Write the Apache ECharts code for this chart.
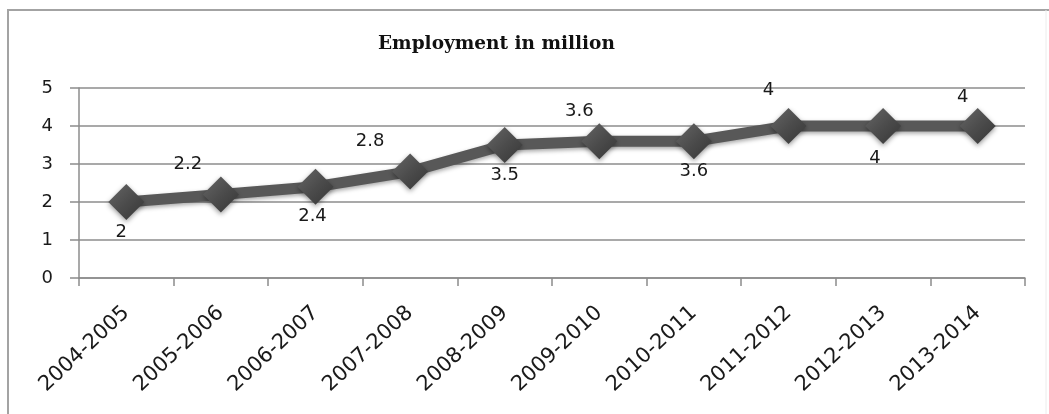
<!DOCTYPE html>
<html>
<head>
<meta charset="utf-8">
<script src="https://cdn.jsdelivr.net/npm/echarts@6/dist/echarts.min.js"></script>
<style>
html,body{margin:0;padding:0;background:#fff;}
#c{width:1049px;height:414px;}
</style>
</head>
<body>
<div id="c"></div>
<script>
var categories = ['2004-2005','2005-2006','2006-2007','2007-2008','2008-2009','2009-2010','2010-2011','2011-2012','2012-2013','2013-2014'];
var employment = [2, 2.2, 2.4, 2.8, 3.5, 3.6, 3.6, 4, 4, 4];
var yTicks = [0, 1, 2, 3, 4, 5];
// label placement style per point: [dx, dy]
var labelShift = [[-5,30],[-33,-30],[-3,30],[-40,-30],[0,30],[-20,-30],[0,30],[-20,-36],[-8,32],[-15,-29]];

var chart = echarts.init(document.getElementById('c'), null, {renderer:'canvas'});
var seriesData = employment.map(function(v,i){
  return {
    value: v,
    label: {
      show: true,
      position: 'inside',
      offset: labelShift[i]
    }
  };
});
chart.setOption({
  animation: false,
  backgroundColor: '#ffffff',
  title: {
    text: 'Employment in million',
    left: 373,
    top: 30,
    textStyle: {fontFamily: 'DejaVu Serif', fontWeight: 'bold', fontSize: 18.5, color: '#111'}
  },
  graphic: [
    {type:'line', shape:{x1:7, y1:10, x2:1049, y2:10}, style:{stroke:'#a3a3a3', lineWidth:2}},
    {type:'line', shape:{x1:8, y1:9, x2:8, y2:414}, style:{stroke:'#a3a3a3', lineWidth:2}},
    {type:'line', shape:{x1:1046, y1:10, x2:1046, y2:414}, style:{stroke:'#ececec', lineWidth:1}}
  ],
  grid: {left: 79, right: 24, top: 88, bottom: 136, containLabel: false},
  xAxis: {
    type: 'category',
    data: categories,
    boundaryGap: true,
    axisLine: {show: true, lineStyle: {color: '#8c8c8c', width: 1.5}},
    axisTick: {show: true, length: 8, lineStyle: {color: '#8c8c8c', width: 1.5}},
    axisLabel: {rotate: 43, margin: 32, fontFamily: 'DejaVu Sans', fontSize: 21, color: '#1a1a1a'},
    splitLine: {show: false}
  },
  yAxis: {
    type: 'value',
    min: yTicks[0],
    max: yTicks[yTicks.length-1],
    interval: 1,
    axisLine: {show: true, lineStyle: {color: '#8c8c8c', width: 1.5}},
    axisTick: {show: true, length: 9, lineStyle: {color: '#8c8c8c', width: 1.5}},
    axisLabel: {margin: 26, fontFamily: 'DejaVu Sans', fontSize: 18, color: '#1a1a1a',
      formatter: function(v){ return yTicks.indexOf(v) >= 0 ? String(v) : ''; }},
    splitLine: {show: true, lineStyle: {color: '#8c8c8c', width: 1.5}}
  },
  series: [{
    type: 'line',
    data: seriesData,
    symbol: 'diamond',
    symbolSize: 36,
    lineStyle: {color: '#585858', width: 11, shadowBlur: 4, shadowColor: 'rgba(0,0,0,0.35)', shadowOffsetY: 2},
    itemStyle: {
      color: new echarts.graphic.LinearGradient(0,0,1,1,[{offset:0,color:'#666666'},{offset:0.5,color:'#4c4c4c'},{offset:1,color:'#363636'}]),
      borderWidth: 0,
      shadowBlur: 5, shadowColor: 'rgba(0,0,0,0.4)', shadowOffsetY: 2
    },
    label: {fontFamily: 'DejaVu Sans', fontSize: 18, color: '#1a1a1a'},
    z: 3
  }]
});
</script>
</body>
</html>
